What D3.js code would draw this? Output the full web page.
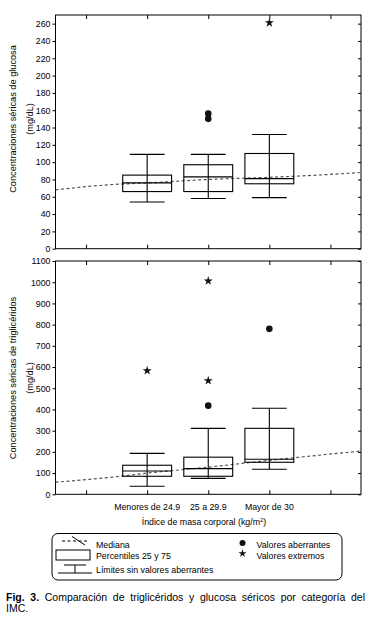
<!DOCTYPE html>
<html>
<head>
<meta charset="utf-8">
<script src="https://cdn.jsdelivr.net/npm/d3@7"></script>
<style>
  body { margin: 0; background: #fff; }
  svg { display: block; font-family: "Liberation Sans", Arial, Helvetica, sans-serif; }
</style>
</head>
<body>
<div id="chart"></div>
<script>
// categorías (posiciones 1..3 en el eje x, que va de -0.5 a 4.5)
const categories = ["Menores de 24.9", "25 a 29.9", "Mayor de 30"];
const xTicks = [0, 1, 2, 3, 4];

// glucosa (mg/dL)
const gluQ1 = [66, 66, 75];
const gluMedian = [76, 83, 81];
const gluQ3 = [85, 97, 110];
const gluLow = [54, 58, 59];
const gluHigh = [109, 109, 132];
const gluAberrantes = [[2, 150], [2, 156]];
const gluExtremos = [[3, 261]];
const gluTrendX = [-0.5, 0.4, 1, 2, 3, 3.5, 4.5];
const gluTrendY = [68, 74, 76, 80, 82.5, 84, 88];
const gluTicks = d3.range(0, 261, 20);

// triglicéridos (mg/dL)
const triQ1 = [85, 85, 151];
const triMedian = [110, 121, 165];
const triQ3 = [137, 175, 311];
const triLow = [38, 75, 118];
const triHigh = [193, 311, 406];
const triAberrantes = [[2, 418], [3, 780]];
const triExtremos = [[1, 583], [2, 536], [2, 1006]];
const triTrendX = [-0.5, 0.4, 1, 2, 3, 4.5];
const triTrendY = [57, 80, 100, 128, 160, 204];
const triTicks = d3.range(0, 1101, 100);

const W = 372, H = 626;
const svg = d3.select("#chart").append("svg").attr("width", W).attr("height", H);
svg.append("rect").attr("width", W).attr("height", H).attr("fill", "#fff");

const x = d3.scaleLinear().domain([-0.5, 4.5]).range([55.5, 361]);
const bandW = (x(1) - x(0)) * 0.8;
const capW = (x(1) - x(0)) * 0.57;

function panel(cfg) {
  const y = d3.scaleLinear().domain(cfg.domain).range(cfg.range);
  const g = svg.append("g");
  const [x0, x1] = x.range();
  const [yb, yt] = cfg.range;

  // marco
  g.append("rect").attr("x", x0).attr("y", yt).attr("width", x1 - x0).attr("height", yb - yt)
    .attr("fill", "none").attr("stroke", "#000").attr("stroke-width", 1);

  // ejes
  g.append("g").attr("transform", `translate(${x0},0)`)
    .call(d3.axisLeft(y).tickValues(cfg.ticks).tickSize(3).tickPadding(2).tickFormat(d3.format("d")))
    .call(a => a.select(".domain").remove())
    .call(a => a.selectAll("text").attr("font-size", 8.8).attr("font-family", null));
  g.append("g").attr("transform", `translate(${x1},0)`)
    .call(d3.axisLeft(y).tickValues(cfg.ticks).tickSize(3).tickFormat(""))
    .call(a => a.select(".domain").remove());
  g.append("g").attr("transform", `translate(0,${yb})`)
    .call(d3.axisTop(x).tickValues(xTicks).tickSize(4).tickFormat(""))
    .call(a => a.select(".domain").remove());
  g.append("g").attr("transform", `translate(0,${yt})`)
    .call(d3.axisBottom(x).tickValues(xTicks).tickSize(4).tickFormat(""))
    .call(a => a.select(".domain").remove());

  // línea de tendencia de la mediana
  g.append("path").datum(cfg.trendX.map((v, i) => [v, cfg.trendY[i]]))
    .attr("d", d3.line().x(d => x(d[0])).y(d => y(d[1])).curve(d3.curveMonotoneX))
    .attr("fill", "none").attr("stroke", "#555").attr("stroke-width", 1.2)
    .attr("stroke-dasharray", "3,2.5");

  const boxes = categories.map((c, i) => ({
    pos: i + 1, q1: cfg.q1[i], med: cfg.med[i], q3: cfg.q3[i], lo: cfg.lo[i], hi: cfg.hi[i]
  }));
  const bg = g.selectAll(".box").data(boxes).enter().append("g")
    .attr("fill", "none").attr("stroke", "#000").attr("stroke-width", 1.1);
  bg.append("line").attr("x1", d => x(d.pos)).attr("x2", d => x(d.pos))
    .attr("y1", d => y(d.hi)).attr("y2", d => y(d.lo));
  bg.append("line").attr("x1", d => x(d.pos) - capW / 2).attr("x2", d => x(d.pos) + capW / 2)
    .attr("y1", d => y(d.hi)).attr("y2", d => y(d.hi));
  bg.append("line").attr("x1", d => x(d.pos) - capW / 2).attr("x2", d => x(d.pos) + capW / 2)
    .attr("y1", d => y(d.lo)).attr("y2", d => y(d.lo));
  bg.append("rect").attr("x", d => x(d.pos) - bandW / 2).attr("width", bandW)
    .attr("y", d => y(d.q3)).attr("height", d => y(d.q1) - y(d.q3)).attr("fill", "none");
  bg.append("line").attr("x1", d => x(d.pos) - bandW / 2).attr("x2", d => x(d.pos) + bandW / 2)
    .attr("y1", d => y(d.med)).attr("y2", d => y(d.med));

  g.selectAll(".ab").data(cfg.aberrantes).enter().append("circle")
    .attr("cx", d => x(d[0])).attr("cy", d => y(d[1])).attr("r", 3.3).attr("fill", "#111");
  g.selectAll(".ex").data(cfg.extremos).enter().append("path")
    .attr("d", d3.symbol(d3.symbolStar, 26))
    .attr("transform", d => `translate(${x(d[0])},${y(d[1])})`).attr("fill", "#111");

  // etiqueta eje y
  const lab = g.append("text").attr("font-size", 9.2).attr("text-anchor", "middle")
    .attr("transform", `translate(16,${cfg.labelY}) rotate(-90)`);
  lab.append("tspan").attr("x", 0).attr("y", 0).text(cfg.label);
  lab.append("tspan").attr("x", 0).attr("y", cfg.label2dy).text("(mg/dL)");
  return y;
}

panel({
  domain: [0, 270], range: [248.7, 15], ticks: gluTicks,
  q1: gluQ1, med: gluMedian, q3: gluQ3, lo: gluLow, hi: gluHigh,
  aberrantes: gluAberrantes, extremos: gluExtremos, trendX: gluTrendX, trendY: gluTrendY,
  label: "Concentraciones séricas de glucosa", label2dy: 17, labelY: 119
});
panel({
  domain: [0, 1100], range: [494.3, 261], ticks: triTicks,
  q1: triQ1, med: triMedian, q3: triQ3, lo: triLow, hi: triHigh,
  aberrantes: triAberrantes, extremos: triExtremos, trendX: triTrendX, trendY: triTrendY,
  label: "Concentraciones séricas de triglicéridos", label2dy: 17, labelY: 378
});

// categorías eje x
svg.append("g").selectAll("text").data(categories).enter().append("text")
  .attr("x", (d, i) => x(i + 1)).attr("y", 510).attr("text-anchor", "middle")
  .attr("font-size", 8.8).text(d => d);
const xt = svg.append("text").attr("x", 204).attr("y", 525).attr("text-anchor", "middle").attr("font-size", 8.8);
xt.append("tspan").text("Índice de masa corporal (kg/m");
xt.append("tspan").attr("font-size", 6).attr("dy", -3.5).text("2");
xt.append("tspan").attr("dy", 3.5).text(")");

// leyenda
const lg = svg.append("g");
lg.append("rect").attr("x", 52).attr("y", 533.5).attr("width", 290).attr("height", 46.5)
  .attr("rx", 6).attr("fill", "none").attr("stroke", "#000").attr("stroke-width", 1);
lg.append("line").attr("x1", 62).attr("x2", 88).attr("y1", 541).attr("y2", 541)
  .attr("stroke", "#000").attr("stroke-dasharray", "3,2.5");
lg.append("line").attr("x1", 72).attr("x2", 85).attr("y1", 536.5).attr("y2", 545)
  .attr("stroke", "#000");
lg.append("rect").attr("x", 56).attr("y", 550).attr("width", 34).attr("height", 10)
  .attr("fill", "none").attr("stroke", "#000");
lg.append("path").attr("d", "M64,565H86M75,565V573M58,573H92").attr("fill", "none").attr("stroke", "#000");
lg.append("circle").attr("cx", 242.5).attr("cy", 543).attr("r", 3).attr("fill", "#111");
lg.append("path").attr("d", d3.symbol(d3.symbolStar, 20)).attr("transform", "translate(242.5,553.5)").attr("fill", "#111");
const legTexts = [["Mediana", 96, 544.5], ["Percentiles 25 y 75", 96, 555.5], ["Límites sin valores aberrantes", 96, 569.5],
  ["Valores aberrantes", 256.5, 544.5], ["Valores extremos", 256.5, 555.5]];
lg.selectAll(".lt").data(legTexts).enter().append("text")
  .attr("x", d => d[1]).attr("y", d => d[2]).attr("dy", "0.35em").attr("font-size", 8.8).text(d => d[0]);

// pie de figura
const cap = svg.append("text").attr("x", 6).attr("y", 601).attr("font-size", 10.5);
cap.append("tspan").attr("font-weight", "bold").text("Fig. 3.");
cap.append("tspan").text(" Comparación de triglicéridos y glucosa séricos por categoría del");
const natural = cap.node().getComputedTextLength();
const spaces = 10;
cap.attr("word-spacing", (365 - 6 - natural) / spaces);
svg.append("text").attr("x", 6).attr("y", 612).attr("font-size", 10.5).text("IMC.");
</script>
</body>
</html>
